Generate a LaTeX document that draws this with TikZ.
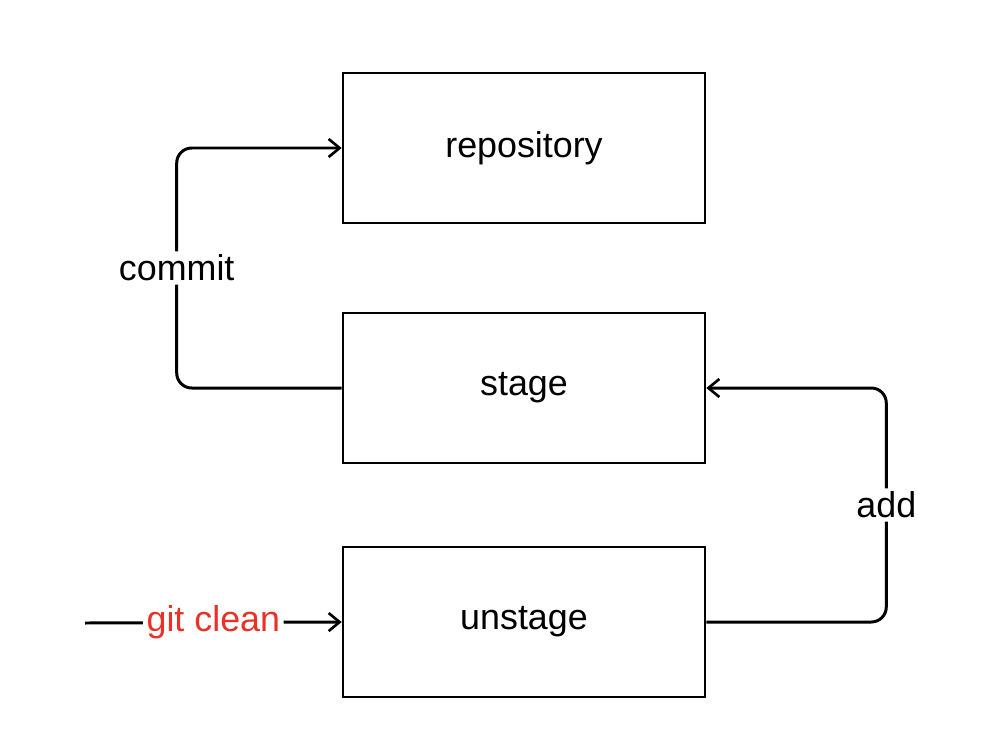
\documentclass[tikz,border=0pt]{standalone}
\usepackage{fontspec}
\setmainfont{Liberation Sans}
\usetikzlibrary{arrows.meta}

\begin{document}
\begin{tikzpicture}[x=0.02cm,y=-0.02cm,>={Straight Barb[length=2.2mm,width=3.6mm,line width=1.5pt]},
  font=\fontsize{20.4}{24}\selectfont,
  area/.style={draw,line width=1.5pt,minimum width=7.24cm,minimum height=3cm},
  flow/.style={line width=1.7pt,rounded corners=0.3cm,->},
  tag/.style={fill=white,inner sep=2pt}]
  \useasboundingbox (0,0) rectangle (990,754);

  % ================= 三个区域 =================
  \node[area] (repo) at (524,148) {repository};
  \node[area] (stage) at (524,388) {stage};
  \node[area] (unstage) at (524,622) {unstage};

  % ================= commit: stage -> repository =================
  \draw[flow] (stage.west) -- ++(-165,0) |- (repo.west)
    node[pos=0.25,tag] {commit};

  % ================= add: unstage -> stage =================
  \draw[flow] (unstage.east) -- ++(180,0) |- (stage.east)
    node[pos=0.25,tag] {add};

  % ================= git clean =================
  \coordinate (start) at (85,623);
  \draw[flow] (start) -- (unstage.west)
    node[midway,tag,text={rgb,255:red,232;green,50;blue,40}] {git clean};

\end{tikzpicture}
\end{document}
